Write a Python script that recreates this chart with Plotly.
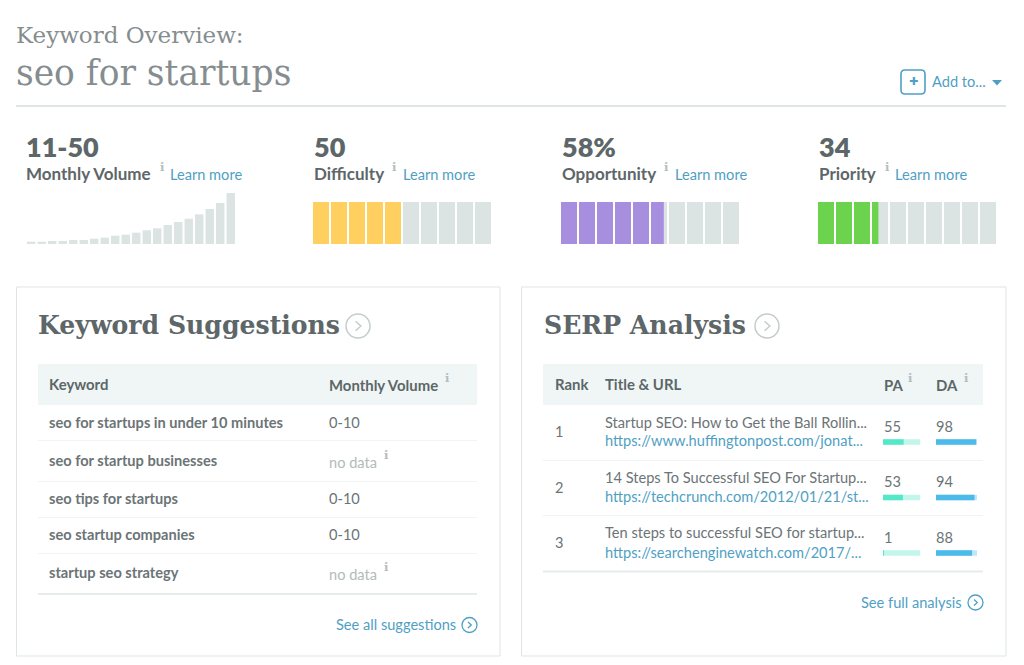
import plotly.graph_objs as go

W = 1024
H = 665

# KPI data
kpi_values = ["11-50", "50", "58%", "34"]
kpi_labels = ["Monthly Volume", "Difficulty", "Opportunity", "Priority"]
volume_trend = [2.3, 2.3, 3, 3, 4, 4, 5.3, 6.3, 8.3, 9.3, 11.3, 13.7, 15.7, 19, 22, 25.3, 29.7, 35, 41, 51]
difficulty_score = 50
opportunity_score = 58
priority_score = 34

# Keyword suggestions table
keywords = ["seo for startups in under 10 minutes", "seo for startup businesses", "seo tips for startups",
            "seo startup companies", "startup seo strategy"]
keyword_volumes = ["0-10", "no data", "0-10", "0-10", "no data"]

# SERP table
serp_ranks = [1, 2, 3]
serp_titles = ["Startup SEO: How to Get the Ball Rollin...", "14 Steps To Successful SEO For Startup...",
               "Ten steps to successful SEO for startup..."]
serp_urls = ["https://www.huffingtonpost.com/jonat...", "https://techcrunch.com/2012/01/21/st...",
             "https://searchenginewatch.com/2017/..."]
serp_pa = [55, 53, 1]
serp_da = [98, 94, 88]

GREY = "#5d6668"
TEXT = "#6b7476"
BLUE = "#4f9fc4"
TRACK = "#dce4e3"
LINE = "#e6ecec"
HEAD = "#eff6f5"
BODY = "Lato"
SLAB = "DejaVu Serif"
FS = 14.6


def px(x):
    return x / W


def py(y):
    return 1 - y / H


fig = go.Figure()
annotations = []
shapes = []


def text(x, y, s, size=14, color=TEXT, family=BODY, weight=400, anchor="left"):
    annotations.append(dict(x=px(x - 1), y=py(y - 0.6), xref="paper", yref="paper", text=s, showarrow=False,
                            xanchor=anchor, yanchor="middle", borderpad=0,
                            font=dict(size=size, color=color, family=family, weight=weight)))


def info(x, y):
    text(x, y, "i", size=11.5, color="#b5bdbd", family="DejaVu Serif", weight=700)


def rect(x0, y0, x1, y1, fill=None, line=None, width=1):
    shapes.append(dict(type="rect", xref="paper", yref="paper", x0=px(x0), x1=px(x1), y0=py(y0), y1=py(y1),
                       fillcolor=fill or "rgba(0,0,0,0)", line=dict(color=line or "rgba(0,0,0,0)", width=width if line else 0),
                       layer="below"))


def chevron_circle(x, y, r, color, width=1.5):
    shapes.append(dict(type="circle", xref="paper", yref="paper", x0=px(x - r), x1=px(x + r), y0=py(y - r), y1=py(y + r),
                       line=dict(color=color, width=width), layer="below"))
    s = r * 0.4
    path = f"M {px(x - s * 0.5)} {py(y - s)} L {px(x + s * 0.6)} {py(y)} L {px(x - s * 0.5)} {py(y + s)}"
    shapes.append(dict(type="path", xref="paper", yref="paper", path=path, line=dict(color=color, width=width), layer="below"))


def rounded_box(x0, y0, x1, y1, r, color, width):
    p = (f"M {px(x0 + r)} {py(y0)} L {px(x1 - r)} {py(y0)} Q {px(x1)} {py(y0)} {px(x1)} {py(y0 + r)} "
         f"L {px(x1)} {py(y1 - r)} Q {px(x1)} {py(y1)} {px(x1 - r)} {py(y1)} "
         f"L {px(x0 + r)} {py(y1)} Q {px(x0)} {py(y1)} {px(x0)} {py(y1 - r)} "
         f"L {px(x0)} {py(y0 + r)} Q {px(x0)} {py(y0)} {px(x0 + r)} {py(y0)} Z")
    shapes.append(dict(type="path", xref="paper", yref="paper", path=p, line=dict(color=color, width=width), layer="below"))


def add_axes(n, x0, x1, y0, y1, xrange, yrange):
    fig.update_layout(**{
        f"xaxis{n}": dict(domain=[px(x0), px(x1)], range=xrange, visible=False, fixedrange=True, anchor=f"y{n}"),
        f"yaxis{n}": dict(domain=[py(y1), py(y0)], range=yrange, visible=False, fixedrange=True, anchor=f"x{n}"),
    })


def add_gauge(n, x0, score, color):
    # 10 segments, 10 score points each, 18px pitch
    add_axes(n, x0, x0 + 178, 202, 244, [0, 98.9], [0, 1])
    starts = [i * 10 for i in range(10)]
    fig.add_trace(go.Bar(x=starts, y=[1] * 10, width=[8.9] * 10, offset=0, marker=dict(color=TRACK, line_width=0),
                         xaxis=f"x{n}", yaxis=f"y{n}", hoverinfo="skip"))
    on = [s for s in starts if s < score]
    filled = [min(1, (score - s) / 10) * 8.9 for s in on]
    fig.add_trace(go.Bar(x=on, y=[1] * len(on), width=filled, offset=0, marker=dict(color=color, line_width=0),
                         xaxis=f"x{n}", yaxis=f"y{n}", hoverinfo="skip"))


# spark bars
add_axes(1, 26, 236, 193, 244, [-0.5, 19.5], [0, 51])
fig.add_trace(go.Bar(x=list(range(20)), y=volume_trend, width=0.8, marker=dict(color=TRACK, line_width=0),
                     xaxis="x1", yaxis="y1", hoverinfo="skip"))

add_gauge(2, 313, difficulty_score, "#ffd060")
add_gauge(3, 561, opportunity_score, "#a78ede")
add_gauge(4, 818, priority_score, "#6cd34e")


def add_mini(n, x0, x1, values, color, light):
    add_axes(n, x0, x1, 414.25, 580.75, [0, 100], [3.5, 0.5])
    fig.add_trace(go.Bar(y=serp_ranks, x=[100] * 3, orientation="h", width=0.1, marker=dict(color=light, line_width=0),
                         xaxis=f"x{n}", yaxis=f"y{n}", hoverinfo="skip"))
    fig.add_trace(go.Bar(y=serp_ranks, x=values, orientation="h", width=0.1, marker=dict(color=color, line_width=0),
                         xaxis=f"x{n}", yaxis=f"y{n}", hoverinfo="skip"))


add_mini(5, 883, 920.5, serp_pa, "#55e8c8", "#c2f6ea")
add_mini(6, 936, 977, serp_da, "#4dbbea", "#c0e7f9")

# page heading
text(16, 36, "Keyword Overview:", size=23, color="#858d8f", family=SLAB)
text(16, 74, "seo for startups", size=34.5, color="#858d8f", family=SLAB)
rect(16, 105, 1006, 107, fill="#dfe5e5")
rounded_box(901, 70, 925, 94, 4, BLUE, 1.6)
text(914, 82.5, "✚", size=11, color=BLUE, family="DejaVu Sans", anchor="center")
text(932, 82, "Add to...", size=FS, color=BLUE)
shapes.append(dict(type="path", xref="paper", yref="paper", fillcolor=BLUE, line_width=0,
                   path=f"M {px(992)} {py(80)} L {px(1002)} {py(80)} L {px(997)} {py(85.5)} Z"))

# KPI header texts
kpi_x = [26, 314, 562, 819]
info_x = [160, 392, 664, 885]
learn_x = [170, 403, 675, 895]
for i in range(4):
    text(kpi_x[i], 147, kpi_values[i], size=27, color=GREY, weight=800)
    text(kpi_x[i], 174, kpi_labels[i], size=17, color=GREY, weight=700)
    info(info_x[i], 168)
    text(learn_x[i], 175, "Learn more", size=FS, color=BLUE)

# panels
rect(16.5, 287, 500, 656, line="#dfe5e5")
rect(521.5, 287, 1006, 656, line="#dfe5e5")

# left panel
text(38, 326, "Keyword Suggestions", size=25.15, color=GREY, family=SLAB, weight=700)
chevron_circle(358, 326, 12, "#c4cccc")
rect(38, 364, 477, 405, fill=HEAD)
text(49, 385, "Keyword", size=14.9, color=GREY, weight=700)
text(329, 386, "Monthly Volume", size=14.9, color=GREY, weight=700)
info(445, 379)
row_y = [423, 461, 499.5, 535, 573]
row_line = [440, 481, 517, 553]
for i in range(5):
    text(49, row_y[i], keywords[i], size=FS, color=TEXT, weight=700)
    if keyword_volumes[i] == "no data":
        text(329, row_y[i] + 2.5, keyword_volumes[i], size=FS, color="#b3baba")
        info(384, row_y[i] - 5)
    else:
        text(329, row_y[i], keyword_volumes[i], size=FS, color=TEXT)
for y in row_line:
    rect(38, y, 477, y + 1, fill="#f0f4f4")
rect(38, 593, 477, 595, fill=LINE)
text(336, 625.5, "See all suggestions", size=FS, color=BLUE)
chevron_circle(469.5, 625, 7.5, BLUE, 1.3)

# right panel
text(544, 326, "SERP Analysis", size=25.15, color=GREY, family=SLAB, weight=700)
chevron_circle(767, 326, 12, "#c4cccc")
rect(543, 364, 983, 405, fill=HEAD)
text(555, 385, "Rank", size=14.9, color=GREY, weight=700)
text(605, 385, "Title & URL", size=14.9, color=GREY, weight=700)
text(884, 386, "PA", size=14.9, color=GREY, weight=700)
text(936, 386, "DA", size=14.9, color=GREY, weight=700)
info(908, 379)
info(964, 379)
rank_y = [432, 488, 543]
title_y = [423, 478, 533]
url_y = [441, 497, 553]
val_y = [427, 482, 538]
for i in range(3):
    text(555, rank_y[i], str(serp_ranks[i]), size=FS, color=TEXT)
    text(605, title_y[i], serp_titles[i], size=FS, color=TEXT)
    text(605, url_y[i], serp_urls[i], size=FS, color=BLUE)
    text(884, val_y[i], str(serp_pa[i]), size=FS, color=TEXT)
    text(936, val_y[i], str(serp_da[i]), size=FS, color=TEXT)
rect(543, 460, 983, 461, fill="#f0f4f4")
rect(543, 515, 983, 516, fill="#f0f4f4")
rect(543, 570.5, 983, 572.5, fill=LINE)
text(861, 603, "See full analysis", size=FS, color=BLUE)
chevron_circle(975.5, 602.5, 7.5, BLUE, 1.3)

fig.update_layout(
    width=W,
    height=H,
    margin=dict(l=0, r=0, t=0, b=0),
    paper_bgcolor="white",
    plot_bgcolor="rgba(0,0,0,0)",
    barmode="overlay",
    showlegend=False,
    annotations=annotations,
    shapes=shapes,
)

fig.write_html("out.html", config={"displayModeBar": False}, post_script="document.body.style.margin='0';")
